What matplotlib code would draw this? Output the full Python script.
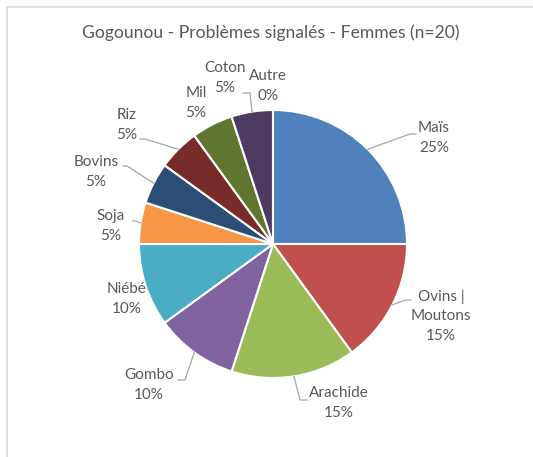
import matplotlib
matplotlib.use("Agg")
import matplotlib.pyplot as plt
import numpy as np

# ---- data ----
categories = ["Maïs", "Ovins |\nMoutons", "Arachide", "Gombo", "Niébé", "Soja",
              "Bovins", "Riz", "Mil", "Coton", "Autre"]
values = [25, 15, 15, 10, 10, 5, 5, 5, 5, 5, 0]
pct_labels = ["25%", "15%", "15%", "10%", "10%", "5%", "5%", "5%", "5%", "5%", "0%"]
colors = ["#4F81BD", "#C0504D", "#9BBB59", "#8064A2", "#4BACC6", "#F79646",
          "#2C4D75", "#772C2A", "#5F7530", "#4D3B62", "#276A7C"]
title = "Gogounou - Problèmes signalés - Femmes (n=20)"

# ---- layout (pixel space, y measured from top) ----
W, H = 533, 457
cx, cy, R = 273, 244, 134
label_pos = [(434, 138), (441, 316), (339, 403), (149, 385), (127, 299), (111, 226),
             (96, 172), (127, 125), (196, 103), (225, 78), (268, 86)]
# elbow point and end of horizontal tick for leader lines (None = no leader)
leaders = [((410, 134), (416, 134)), ((405, 300), (411, 300)), ((300, 400), (307, 400)),
           ((185, 380), (178, 380)), None, ((136, 221), (133, 221)),
           ((127, 166), (123, 166)), ((145, 139), (140, 139)), None,
           ((250, 93), (243, 93)), None]

text_color = "#595959"
line_color = "#A6A6A6"
plt.rcParams['font.family'] = ['Lato', 'DejaVu Sans']

fig = plt.figure(figsize=(W / 100, H / 100), dpi=100)
ax = fig.add_axes([0, 0, 1, 1])

def Y(y):
    return H - y

# frame (top and left edges of the chart area)
ax.plot([7, W], [Y(7), Y(7)], color="#D9D9D9", lw=1.2)
ax.plot([7, 7], [Y(7), 0], color="#D9D9D9", lw=1.2)

wedges, _ = ax.pie(values, colors=colors, startangle=90, counterclock=False,
                   center=(cx, Y(cy)), radius=R,
                   wedgeprops=dict(edgecolor="white", linewidth=1.5))
ax.set_xlim(0, W)
ax.set_ylim(0, H)
ax.set_aspect('equal')
ax.axis('off')

total = sum(values)
cum = 0
for i, v in enumerate(values):
    mid = 90 - (cum + v / 2) / total * 360
    cum += v
    if leaders[i] is not None:
        sx = cx + R * np.cos(np.radians(mid))
        sy = cy - R * np.sin(np.radians(mid))
        (ex, ey), (hx, hy) = leaders[i]
        ax.plot([sx, ex, hx], [Y(sy), Y(ey), Y(hy)], color=line_color, lw=0.9,
                solid_joinstyle='miter')
    lx, ly = label_pos[i]
    ax.text(lx, Y(ly), categories[i] + "\n" + pct_labels[i], ha='center', va='center',
            fontsize=11, color=text_color, linespacing=1.5, multialignment='center')

ax.text(271, Y(33), title, ha='center', va='center', fontsize=12.6, color=text_color)

fig.savefig("out.png", dpi=100)
